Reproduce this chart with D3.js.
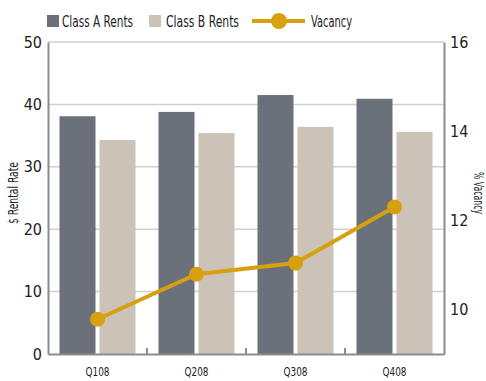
<!DOCTYPE html>
<html>
<head>
<meta charset="utf-8">
<script src="https://cdn.jsdelivr.net/npm/d3@7"></script>
<style>
  body { margin: 0; background: #fff; }
  svg text { font-family: "DejaVu Sans Condensed", "DejaVu Sans", sans-serif; font-stretch: condensed; fill: #222; }
</style>
</head>
<body>
<svg id="chart" width="486" height="381"></svg>
<script>
// donnees
const quarters = ["Q108", "Q208", "Q308", "Q408"];
const classA = [38.1, 38.8, 41.5, 40.9];
const classB = [34.3, 35.4, 36.4, 35.6];
const vacancy = [9.78, 10.79, 11.04, 12.3];
const leftTicks = [0, 10, 20, 30, 40, 50];
const rightTicks = [10, 12, 14, 16];

const colA = "#6a717b", colB = "#cbc2b8", colV = "#d7a00e";
const svg = d3.select("#chart");
const L = 48, R = 444, T = 42, B = 354;

const x0 = d3.scaleBand().domain(quarters).range([L, R]).padding(0);
const x1 = d3.scaleBand().domain(["A", "B"]).range([0, x0.bandwidth()])
  .paddingInner(0.1).paddingOuter(0.2875);
const y = d3.scaleLinear().domain([0, 50]).range([B, T]);
const y2 = d3.scaleLinear().domain([9, 16]).range([B, T]);

// grille
svg.append("g").selectAll("line").data(leftTicks.slice(1)).join("line")
  .attr("x1", L).attr("x2", R)
  .attr("y1", d => y(d)).attr("y2", d => y(d))
  .attr("stroke", "#cfcfcf").attr("stroke-width", 1.5);

// barres
const groups = svg.append("g").selectAll("g").data(quarters).join("g")
  .attr("transform", d => `translate(${x0(d)},0)`);
groups.append("rect")
  .attr("x", x1("A")).attr("width", x1.bandwidth())
  .attr("y", (d, i) => y(classA[i])).attr("height", (d, i) => B - y(classA[i]))
  .attr("fill", colA);
groups.append("rect")
  .attr("x", x1("B")).attr("width", x1.bandwidth())
  .attr("y", (d, i) => y(classB[i])).attr("height", (d, i) => B - y(classB[i]))
  .attr("fill", colB);

// axes
const axisCol = "#8c8c8c";
const gl = svg.append("g").attr("transform", `translate(${L},0)`)
  .call(d3.axisLeft(y).tickValues(leftTicks).tickSize(0).tickPadding(6));
const gr = svg.append("g").attr("transform", `translate(${R},0)`)
  .call(d3.axisRight(y2).tickValues(rightTicks).tickFormat(d3.format("d")).tickSize(0).tickPadding(6));
const gb = svg.append("g").attr("transform", `translate(0,${B})`)
  .call(d3.axisBottom(x0).tickSize(0).tickPadding(13));
[gl, gr, gb].forEach(g => {
  g.select(".domain").attr("stroke", axisCol).attr("stroke-width", 2);
  g.selectAll("text").attr("font-size", 16).attr("fill", "#222").attr("font-family", null);
});
gb.selectAll("text").attr("font-size", 13)
  .attr("textLength", 24).attr("lengthAdjust", "spacingAndGlyphs");
// petits traits entre les trimestres
svg.append("g").selectAll("line").data(quarters.slice(1)).join("line")
  .attr("x1", d => x0(d)).attr("x2", d => x0(d))
  .attr("y1", B).attr("y2", B - 6)
  .attr("stroke", axisCol).attr("stroke-width", 2);

// ligne de vacance
const line = d3.line()
  .x((d, i) => x0(quarters[i]) + x0.bandwidth() / 2)
  .y(d => y2(d));
svg.append("path").datum(vacancy).attr("d", line)
  .attr("fill", "none").attr("stroke", colV).attr("stroke-width", 4);
svg.append("g").selectAll("circle").data(vacancy).join("circle")
  .attr("cx", (d, i) => x0(quarters[i]) + x0.bandwidth() / 2)
  .attr("cy", d => y2(d)).attr("r", 7.5).attr("fill", colV);

// titres des axes
svg.append("text").attr("transform", `translate(18,${(T + B) / 2 - 5}) rotate(-90)`)
  .attr("text-anchor", "middle").attr("font-size", 14)
  .attr("textLength", 62).attr("lengthAdjust", "spacingAndGlyphs").text("$ Rental Rate");
svg.append("text").attr("transform", `translate(474,${(T + B) / 2 - 5}) rotate(90)`)
  .attr("text-anchor", "middle").attr("font-size", 14)
  .attr("textLength", 42).attr("lengthAdjust", "spacingAndGlyphs").text("% Vacancy");

// legende
const lg = svg.append("g").attr("font-size", 16);
lg.append("rect").attr("x", 47).attr("y", 15).attr("width", 12).attr("height", 12).attr("fill", colA);
lg.append("text").attr("x", 62).attr("y", 27).attr("textLength", 71)
  .attr("lengthAdjust", "spacingAndGlyphs").text("Class A Rents");
lg.append("rect").attr("x", 149).attr("y", 15).attr("width", 12).attr("height", 12).attr("fill", colB);
lg.append("text").attr("x", 166).attr("y", 27).attr("textLength", 73)
  .attr("lengthAdjust", "spacingAndGlyphs").text("Class B Rents");
lg.append("line").attr("x1", 252).attr("x2", 305).attr("y1", 21).attr("y2", 21)
  .attr("stroke", colV).attr("stroke-width", 4);
lg.append("circle").attr("cx", 279).attr("cy", 21).attr("r", 8).attr("fill", colV);
lg.append("text").attr("x", 311).attr("y", 27).attr("textLength", 41)
  .attr("lengthAdjust", "spacingAndGlyphs").text("Vacancy");
</script>
</body>
</html>
